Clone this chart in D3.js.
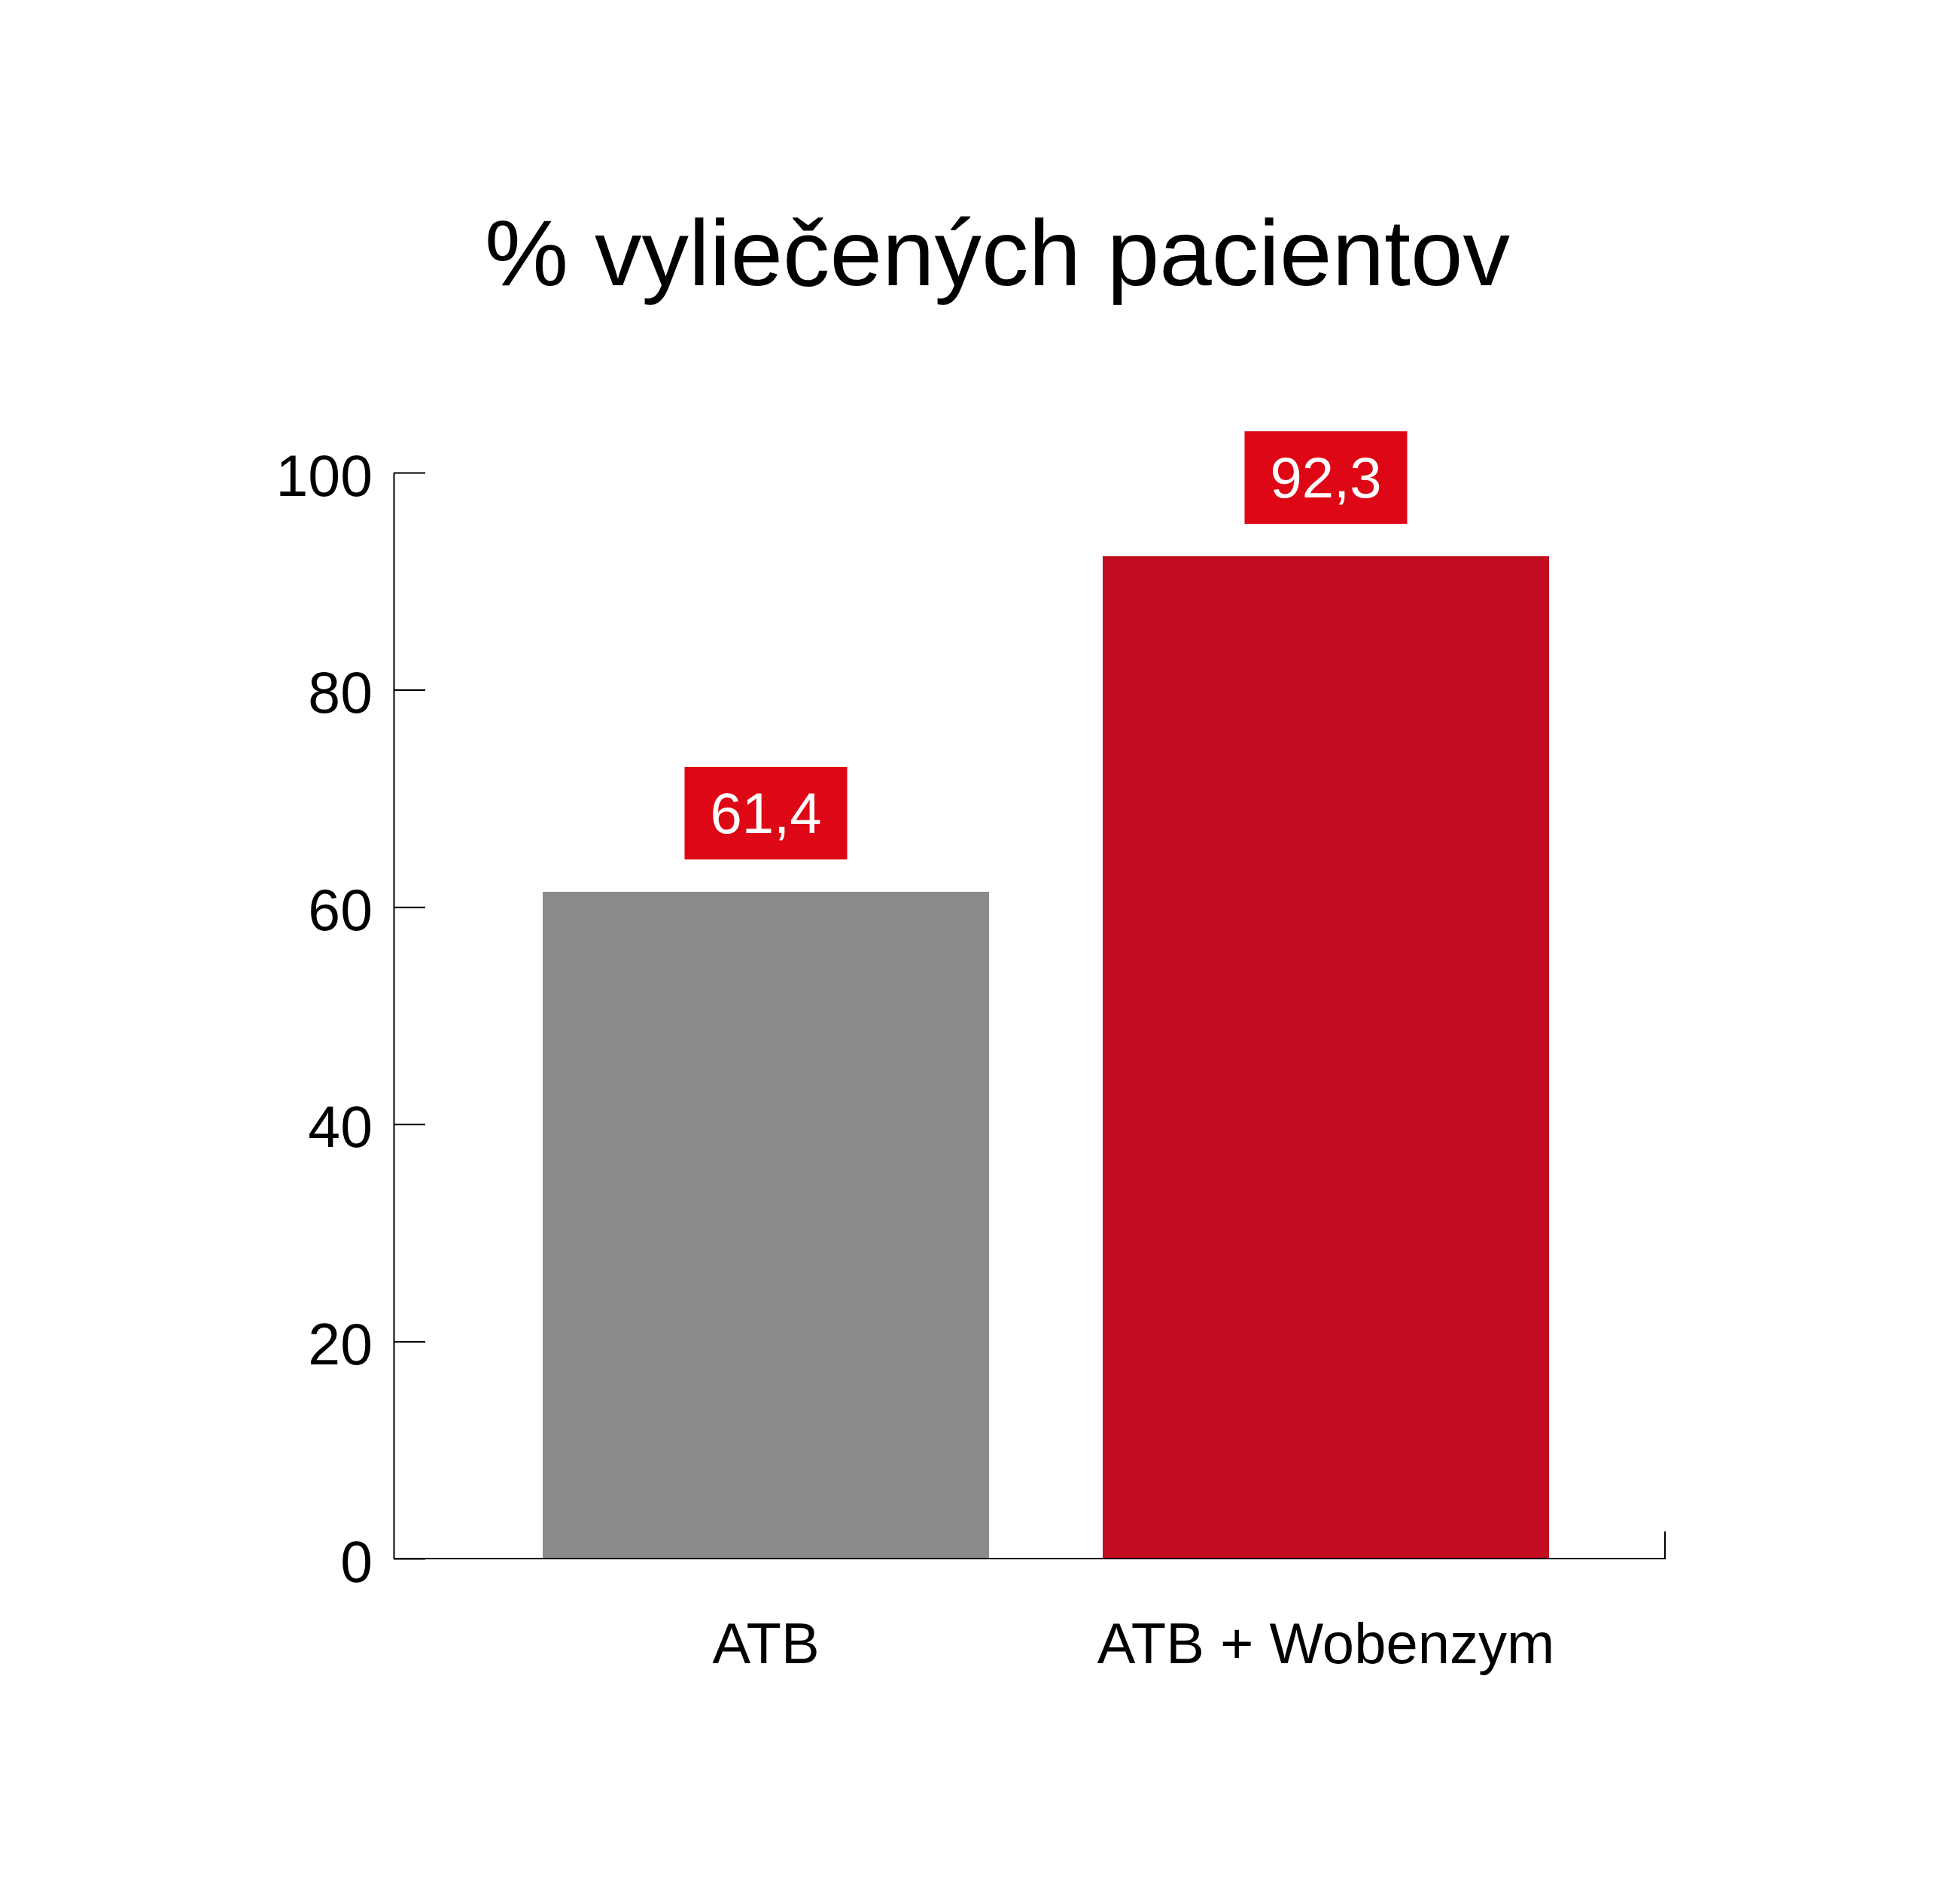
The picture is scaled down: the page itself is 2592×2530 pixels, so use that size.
<!DOCTYPE html>
<html lang="sk">
<head>
<meta charset="utf-8">
<title>% vyliečených pacientov</title>
<script src="https://cdn.jsdelivr.net/npm/d3@7"></script>
<style>
  body { margin: 0; background: #fff; }
  text { font-family: "Liberation Sans", Arial, Helvetica, sans-serif; }
</style>
</head>
<body>
<script>
// data
var title = "% vyliečených pacientov";
var categories = ["ATB", "ATB + Wobenzym"];
var values = [61.4, 92.3];
var yTicks = [0, 20, 40, 60, 80, 100];

var W = 2592, H = 2530;
var axisLeftX = 523, axisRightX = 2212;
var plotTop = 628, plotBottom = 2071;

var svg = d3.select("body").append("svg")
    .attr("width", W)
    .attr("height", H);

svg.append("rect").attr("width", W).attr("height", H).attr("fill", "#fff");

var y = d3.scaleLinear().domain([0, 100]).range([plotBottom, plotTop]);

// band scale sized so the bars land where the reference draws them
var x = d3.scaleBand()
    .domain(categories)
    .range([645.5, 2133.5])
    .paddingInner(0.203)
    .paddingOuter(0.1015);

// title
svg.append("text")
    .attr("x", 1325)
    .attr("y", 379)
    .attr("text-anchor", "middle")
    .style("font-size", "125px")
    .attr("fill", "#000")
    .text(title);

// bars
svg.selectAll("rect.bar")
    .data(values)
    .enter()
    .append("rect")
    .attr("class", "bar")
    .attr("x", function (d, i) { return x(categories[i]); })
    .attr("y", function (d) { return y(d); })
    .attr("width", x.bandwidth())
    .attr("height", function (d) { return y(0) - y(d); })
    .attr("fill", function (d, i) { return i === 0 ? "#8a8a8a" : "#c10d1f"; });

// y axis, ticks pointing inward
var yAxis = d3.axisLeft(y)
    .tickValues(yTicks)
    .tickSizeInner(-42)
    .tickSizeOuter(0)
    .tickPadding(28);

var gy = svg.append("g")
    .attr("transform", "translate(" + axisLeftX + ",0)")
    .call(yAxis);

gy.selectAll("path, line").attr("stroke", "#000").attr("stroke-width", 2);
gy.selectAll("text")
    .attr("dy", "0.39em")
    .attr("fill", "#000")
    .style("font-size", "77px")
    .style("font-family", "'Liberation Sans', Arial, Helvetica, sans-serif");

// x axis baseline with small end tick on the right
svg.append("path")
    .attr("d", "M" + axisLeftX + "," + y(0) + "H" + axisRightX + "V" + (y(0) - 36))
    .attr("fill", "none")
    .attr("stroke", "#000")
    .attr("stroke-width", 2);

// category labels
svg.selectAll("text.cat")
    .data(categories)
    .enter()
    .append("text")
    .attr("class", "cat")
    .attr("x", function (d) { return x(d) + x.bandwidth() / 2; })
    .attr("y", 2210)
    .attr("text-anchor", "middle")
    .style("font-size", "76px")
    .attr("fill", "#000")
    .text(function (d) { return d; });

// value boxes
var boxW = 216, boxH = 123, boxGap = 43;
var lab = svg.selectAll("g.lab")
    .data(values)
    .enter()
    .append("g")
    .attr("class", "lab")
    .attr("transform", function (d, i) {
        var cx = x(categories[i]) + x.bandwidth() / 2;
        return "translate(" + cx + "," + (y(d) - boxGap - boxH) + ")";
    });

lab.append("rect")
    .attr("x", -boxW / 2)
    .attr("width", boxW)
    .attr("height", boxH)
    .attr("fill", "#dd0715");

lab.append("text")
    .attr("y", boxH / 2)
    .attr("dy", "0.35em")
    .attr("text-anchor", "middle")
    .attr("fill", "#fff")
    .style("font-size", "76px")
    .text(function (d) { return d3.format(".1f")(d).replace(".", ","); });
</script>
</body>
</html>
